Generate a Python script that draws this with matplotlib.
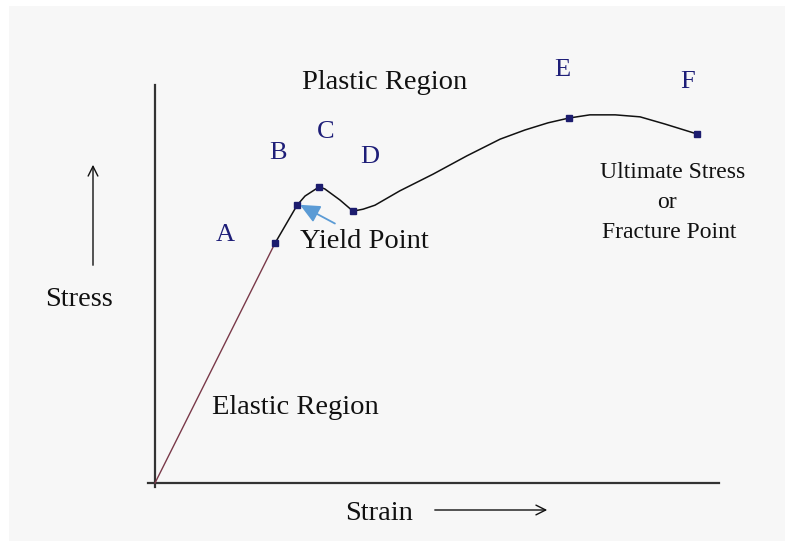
import matplotlib
matplotlib.use("Agg")
import matplotlib.pyplot as plt
from matplotlib.patches import Rectangle, FancyArrowPatch

# ---- data (arbitrary units: strain 0-100, stress 0-100) ----
strain = [0, 21.3, 25.2, 26.6, 29.1, 30.1, 32.8, 35.1, 36.9, 39.0, 43.4, 49.3,
          55.3, 61.2, 65.6, 69.7, 73.4, 77.1, 81.6, 86.0, 90.4, 96.1]
stress = [0, 60.3, 69.8, 72.1, 74.4, 73.9, 71.1, 68.3, 68.8, 69.8, 73.4, 77.6,
          82.2, 86.4, 88.7, 90.5, 91.7, 92.5, 92.5, 92.0, 90.2, 87.7]
point_labels = ["A", "B", "C", "D", "E", "F"]
point_idx = [1, 2, 4, 7, 16, 21]

W, H = 785, 541
fig = plt.figure(figsize=(W / 100, H / 100), dpi=100, facecolor="white")
fig.patches.append(Rectangle((9 / W, 0), 1, 1 - 6 / H, transform=fig.transFigure,
                             facecolor="#f7f7f7", edgecolor="none", zorder=-5))

def fx(x):
    return x / W

def fy(y):
    return 1 - y / H

# axes geometry (origin at pixel 155, 483)
ax = fig.add_axes([148 / W, (H - 487) / H, (719 - 148) / W, (487 - 85) / H])
ax.set_zorder(2)
ax.set_facecolor("none")
ax.set_xlim(-1.24, 100)
ax.set_ylim(-1.0, 100)
for s in ["top", "right"]:
    ax.spines[s].set_visible(False)
ax.spines["left"].set_position(("data", 0))
ax.spines["bottom"].set_position(("data", 0))
ax.spines["left"].set_bounds(-1.0, 100)
ax.spines["bottom"].set_bounds(-1.24, 100)
for s in ["left", "bottom"]:
    ax.spines[s].set_linewidth(1.6)
    ax.spines[s].set_color("#333333")
ax.set_xticks([])
ax.set_yticks([])

# elastic part (reddish) and rest (black)
ax.plot(strain[:2], stress[:2], color="#7a3a4a", lw=1.0, zorder=3)
ax.plot(strain[1:], stress[1:], color="#111111", lw=1.1, zorder=3,
        solid_joinstyle="round")
ax.plot([strain[i] for i in point_idx], [stress[i] for i in point_idx],
        linestyle="none", marker="s", markersize=4, color="#1c1c6e", zorder=4)

# yield point arrow
bx, by = strain[2], stress[2]
ax.annotate("", xy=(bx + 0.5, by + 0.1), xytext=(bx + 6.7, by - 4.6),
            arrowprops=dict(arrowstyle="-|>,head_length=1.2,head_width=0.55",
                            color="#5b9bd5", lw=1.3, shrinkA=0, shrinkB=0),
            zorder=5)

serif = ["Liberation Serif", "DejaVu Serif"]
txt = dict(family=serif, ha="center", va="center", color="#111111")

# point letters
letter_pos = [(225, 235), (278, 153), (326, 132), (370, 157), (562, 70), (688, 82)]
for lab, (x, y) in zip(point_labels, letter_pos):
    fig.text(fx(x), fy(y), lab, fontsize=19, family=serif, ha="center",
             va="center", color="#1e1e78")

fig.text(fx(385), fy(83), "Plastic Region", fontsize=20.5, **txt)
fig.text(fx(364), fy(242), "Yield Point", fontsize=20.5, **txt)
fig.text(fx(295), fy(408), "Elastic Region", fontsize=20.5, **txt)
fig.text(fx(79), fy(300), "Stress", fontsize=20.5, **txt)
fig.text(fx(379), fy(513), "Strain", fontsize=20.5, **txt)
fig.text(fx(673), fy(172), "Ultimate Stress", fontsize=17, **txt)
fig.text(fx(667), fy(203), "or", fontsize=17, **txt)
fig.text(fx(669), fy(233), "Fracture Point", fontsize=17, **txt)

# direction arrows
fig.add_artist(FancyArrowPatch(
    (fx(93), fy(268)), (fx(93), fy(162)), transform=fig.transFigure,
    arrowstyle="->,head_length=7,head_width=3.5", color="#111111", lw=1.0))
fig.add_artist(FancyArrowPatch(
    (fx(432), fy(510)), (fx(550), fy(510)), transform=fig.transFigure,
    arrowstyle="->,head_length=7,head_width=3.5", color="#111111", lw=1.0))

fig.savefig("out.png", dpi=100, facecolor="white")
